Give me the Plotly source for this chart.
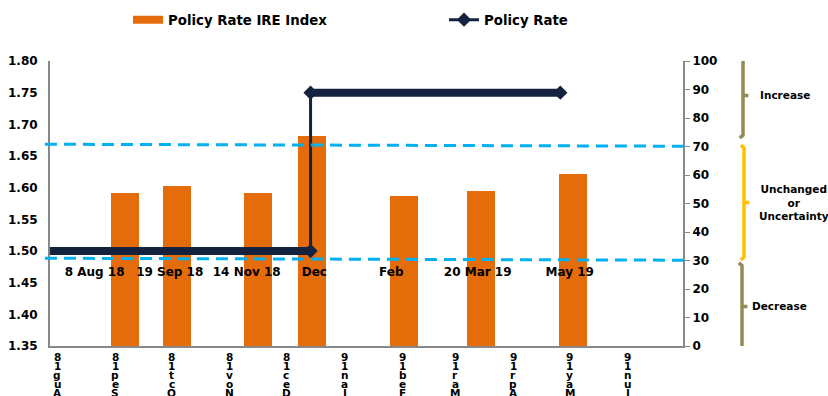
import plotly.graph_objects as go

# ---- data ----
ire_dates = ["2018-09-06", "2018-10-04", "2018-11-16", "2018-12-15",
             "2019-02-02", "2019-03-15", "2019-05-03"]
ire_values = [53.6, 56.1, 53.6, 73.7, 52.6, 54.4, 60.4]

policy_dates = ["2018-07-28", "2018-12-14", "2019-04-26"]
policy_rate = [1.50, 1.75, 1.75]

meeting_dates = ["2018-08-21", "2018-09-30", "2018-11-10", "2018-12-16",
                 "2019-01-26", "2019-03-13", "2019-05-01"]
meeting_labels = ["8 Aug 18", "19 Sep 18", "14 Nov 18", "Dec",
                  "Feb", "20 Mar 19", "May 19"]
meeting_level = 1.465

tick_dates = ["2018-08-01", "2018-09-01", "2018-10-01", "2018-11-01",
              "2018-12-01", "2019-01-01", "2019-02-01", "2019-03-01",
              "2019-04-01", "2019-05-01", "2019-06-01"]
tick_labels = ["81guA", "81peS", "81tcO", "81voN", "81ceD", "91naJ",
               "91beF", "91raM", "91rpA", "91yaM", "91nuJ"]

zone_names = ["Increase", "Unchanged<br>or<br>Uncertainty", "Decrease"]
zone_bounds = [(102.8, 73.0), (70.5, 30.2), (29.2, -1.4)]
zone_colors = ["#948A54", "#FFC000", "#948A54"]
threshold_levels = [70, 30]

NAVY = "#14233F"
ORANGE = "#E46C0A"
FONT = "DejaVu Sans"
DAY_MS = 86400000

fig = go.Figure()

fig.add_trace(go.Bar(
    x=ire_dates, y=ire_values, yaxis="y2", name="Policy Rate IRE Index",
    marker=dict(color=ORANGE, line=dict(width=0)), width=14.9 * DAY_MS,
    legendgroup="ire", showlegend=False,
))
# legend entry for the bars (wide flat swatch like the reference)
fig.add_trace(go.Scatter(
    x=[None], y=[None], yaxis="y2", mode="lines", name="Policy Rate IRE Index",
    line=dict(color=ORANGE, width=8), legendgroup="ire", legend="legend",
))

# thick horizontal segments (no legend)
seg_x, seg_y = [], []
for i in range(len(policy_dates) - 1):
    seg_x += [policy_dates[i], policy_dates[i + 1], None]
    seg_y += [policy_rate[i], policy_rate[i], None]
fig.add_trace(go.Scatter(
    x=seg_x, y=seg_y, mode="lines", line=dict(color=NAVY, width=8),
    showlegend=False, hoverinfo="skip", cliponaxis=False, legendgroup="pr",
))
# step line with diamond markers (legend entry)
fig.add_trace(go.Scatter(
    x=policy_dates, y=policy_rate, mode="lines+markers", name="Policy Rate",
    line=dict(color=NAVY, width=3, shape="hv"),
    marker=dict(symbol="diamond", size=11, color=NAVY),
    cliponaxis=False, legend="legend2", legendgroup="pr",
))
# diamond at the start of the second segment's right end handled above; add end caps
fig.add_trace(go.Scatter(
    x=[policy_dates[1]], y=[policy_rate[0]], mode="markers",
    marker=dict(symbol="diamond", size=11, color=NAVY),
    showlegend=False, hoverinfo="skip", cliponaxis=False, legendgroup="pr",
))

fig.add_trace(go.Scatter(
    x=meeting_dates, y=[meeting_level] * len(meeting_dates), mode="text",
    text=meeting_labels, textposition="middle center",
    textfont=dict(family=FONT, size=12, color="black", weight="bold"),
    showlegend=False, hoverinfo="skip",
))

shapes = []
for lvl in threshold_levels:
    shapes.append(dict(type="line", xref="paper", yref="y2", x0=-0.008, x1=1.0,
                       y0=lvl + 0.8, y1=lvl + 0.1, layer="above",
                       line=dict(color="#00B0F0", width=3, dash="12px,7px")))

xs = [1.0948, 1.0964, 1.0932]
annotations = []
label_x = [1.161, 1.175, 1.153]
for (top, bot), col, x, name, lx in zip(zone_bounds, zone_colors, xs, zone_names, label_x):
    hook = x - 0.005
    notch = x + 0.0085
    mid = (top + bot) / 2
    path = (f"M {hook},{top} L {x},{top - 1} L {x},{bot + 1} L {hook},{bot} "
            f"M {x},{mid} L {notch},{mid}")
    shapes.append(dict(type="path", xref="paper", yref="y2", path=path,
                       line=dict(color=col, width=3.5)))
    annotations.append(dict(x=lx, y=mid, xref="paper", yref="y2", text=name,
                            showarrow=False, xanchor="center", yanchor="middle",
                            font=dict(family=FONT, size=10.5, color="black", weight="bold")))

# stacked x tick labels (one glyph per row, tight spacing)
for d, lab in zip(tick_dates, tick_labels):
    for i, ch in enumerate(lab):
        annotations.append(dict(x=d, y=0, xref="x", yref="paper", text=ch,
                                showarrow=False, xanchor="center", yanchor="middle",
                                yshift=-(11 + 9 * i),
                                font=dict(family=FONT, size=10.5, color="black", weight="bold")))

legend_common = dict(orientation="h", xref="container", yref="container",
                     xanchor="left", yanchor="middle",
                     font=dict(family=FONT, size=13.3, weight="bold"),
                     bgcolor="rgba(0,0,0,0)")

fig.update_layout(
    width=828, height=396,
    margin=dict(l=50, r=145, t=61, b=50, autoexpand=False),
    plot_bgcolor="white", paper_bgcolor="white",
    font=dict(family=FONT, color="black"),
    bargap=0,
    shapes=shapes,
    annotations=annotations,
    legend=dict(x=128 / 828, y=1 - 20 / 396, **legend_common),
    legend2=dict(x=444 / 828, y=1 - 20 / 396, **legend_common),
    xaxis=dict(type="date", range=["2018-07-28 06:00", "2019-06-30 08:00"],
               tickvals=tick_dates, showticklabels=False, automargin=False,
               showline=True, linecolor="#888888", linewidth=2,
               showgrid=False, zeroline=False, ticks=""),
    yaxis=dict(range=[1.35, 1.80], dtick=0.05, tickformat=".2f", overlaying="y2",
               side="left", showline=True, linecolor="#888888", linewidth=2,
               showgrid=False, zeroline=False, ticks="outside", ticklen=8,
               tickcolor="rgba(0,0,0,0)", automargin=False,
               tickfont=dict(family=FONT, size=12, weight="bold")),
    yaxis2=dict(range=[0, 100], dtick=10, side="right", showline=True,
                linecolor="#888888", linewidth=2, showgrid=False, zeroline=False,
                ticks="outside", ticklen=5, tickcolor="#888888", automargin=False,
                tickfont=dict(family=FONT, size=12, weight="bold")),
)

fig.write_html("out.html")
